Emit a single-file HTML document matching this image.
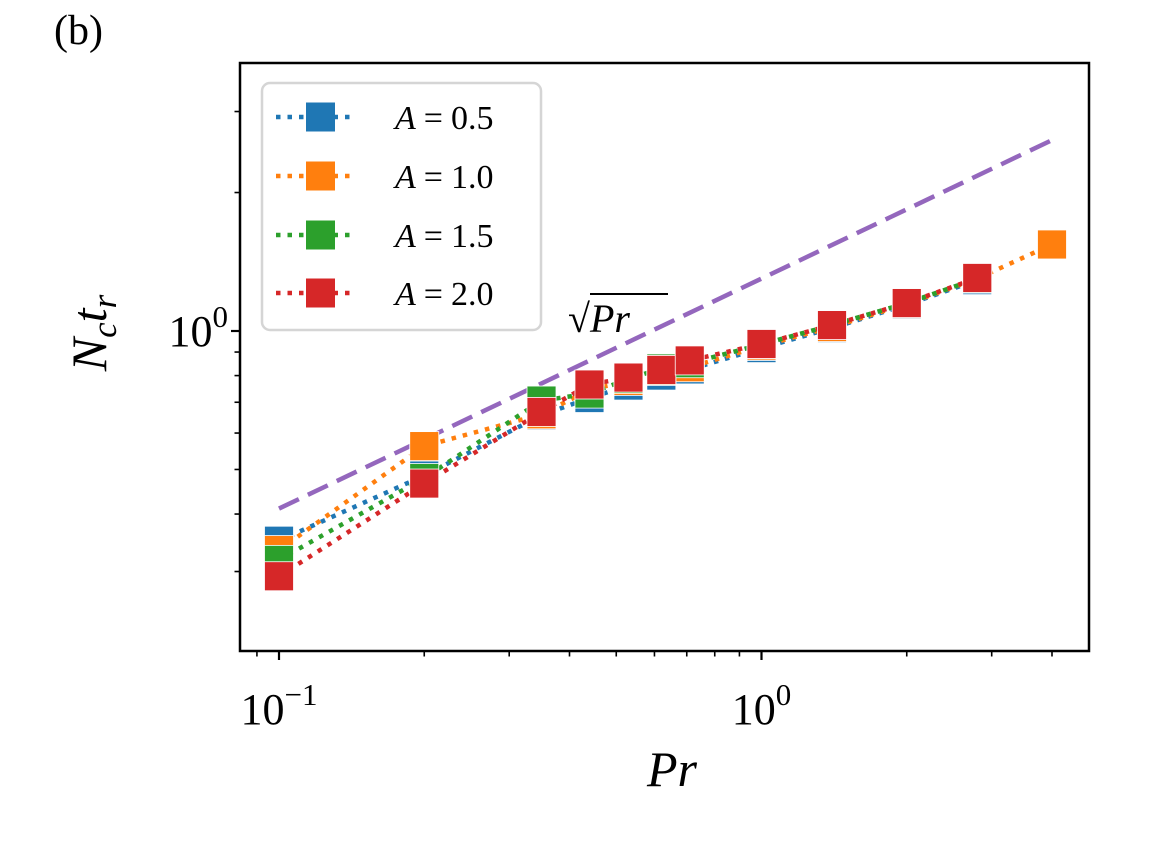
<!DOCTYPE html>
<html><head><meta charset="utf-8"><style>
html,body{margin:0;padding:0;background:#fff;}
svg{display:block;}
text,tspan{font-family:"Liberation Serif","DejaVu Serif",serif;}
</style></head><body>
<svg id="chart" width="1152" height="864" viewBox="0 0 1152 864">
<text x="54" y="44" font-size="42">(b)</text>
<g id="plot"></g>
<text x="672" y="786" font-size="50" font-style="italic" text-anchor="middle">Pr</text>
<text transform="translate(106,333) rotate(-90)" font-size="50" font-style="italic" text-anchor="middle">N<tspan font-size="35" dy="10">c</tspan><tspan dy="-10">t</tspan><tspan font-size="35" dy="10">r</tspan></text>
</svg>
<script>
const prValues = [0.1,0.2,0.35,0.44,0.53,0.62,0.71,1.0,1.4,2.0,2.8,4.0];
const seriesA05 = [0.350,0.485,0.656,0.715,0.761,0.800,0.825,0.918,1.015,1.14,1.29];
const seriesA10 = [0.334,0.562,0.659,0.745,0.779,0.819,0.834,0.928,1.02,1.145,1.30,1.542];
const seriesA15 = [0.318,0.479,0.706,0.731,0.787,0.829,0.851,0.935,1.03,1.15,1.30];
const seriesA20 = [0.293,0.466,0.667,0.765,0.792,0.823,0.863,0.937,1.03,1.15,1.304];
const seriesLabels = ["A = 0.5","A = 1.0","A = 1.5","A = 2.0"];
const sqrtCoef = 1.30;
const sqrtRange = [0.1,4.0];

const NS="http://www.w3.org/2000/svg";
const L=240,R=1089,T=63,B=651;
const xDec=482.5, y0=331, yDec=460;
function X(v){return 279+(Math.log10(v)+1)*xDec;}
function Y(v){return y0-Math.log10(v)*yDec;}
const g=document.getElementById('plot');
function el(tag,attrs,parent){const e=document.createElementNS(NS,tag);for(const k in attrs)e.setAttribute(k,attrs[k]);(parent||g).appendChild(e);return e;}

const sq=el('line',{x1:X(sqrtRange[0]),y1:Y(sqrtCoef*Math.sqrt(sqrtRange[0])),x2:X(sqrtRange[1]),y2:Y(sqrtCoef*Math.sqrt(sqrtRange[1])),stroke:'#9467bd','stroke-width':4.5,'stroke-dasharray':'22 10'});


const sqt=el('text',{x:568,y:332,'font-size':40,'font-style':'italic'});
sqt.textContent='√Pr';


el('line',{x1:590,y1:294,x2:668,y2:294,stroke:'#000','stroke-width':2});

const colors=['#1f77b4','#ff7f0e','#2ca02c','#d62728'];
const all=[seriesA05,seriesA10,seriesA15,seriesA20];
const ms=29;
all.forEach((s,i)=>{
  const pts=s.map((v,j)=>X(prValues[j])+','+Y(v)).join(' ');
  const pl=el('polyline',{points:pts,fill:'none',stroke:colors[i],'stroke-width':4.5,'stroke-dasharray':'4.5 7'});
  
  
  s.forEach((v,j)=>{
    const r=el('rect',{x:X(prValues[j])-ms/2,y:Y(v)-ms/2,width:ms,height:ms,fill:colors[i],stroke:'#fff','stroke-width':0.8});
    
    
  });
});

const fr=el('rect',{x:L,y:T,width:R-L,height:B-T,fill:'none',stroke:'#000','stroke-width':2.5});


for(let d=-2;d<=1;d++){for(let m=1;m<10;m++){const v=m*Math.pow(10,d);const px=X(v);if(px<L||px>R)continue;
  el('line',{x1:px,y1:B,x2:px,y2:B+(m==1?9:5.5),stroke:'#000','stroke-width':m==1?2.2:1.6});}}
for(let d=-1;d<=1;d++){for(let m=1;m<10;m++){const v=m*Math.pow(10,d);const py=Y(v);if(py<T||py>B)continue;
  el('line',{x1:L,y1:py,x2:L-(m==1?9:5.5),y2:py,stroke:'#000','stroke-width':m==1?2.2:1.6});}}
const xl1=el('text',{x:X(0.1),y:724,'font-size':44,'text-anchor':'middle'});
xl1.innerHTML='10<tspan font-size="31" dy="-19">−1</tspan>';


const xl2=el('text',{x:X(1),y:724,'font-size':44,'text-anchor':'middle'});
xl2.innerHTML='10<tspan font-size="31" dy="-19">0</tspan>';


const yl=el('text',{x:228,y:346,'font-size':44,'text-anchor':'end'});
yl.innerHTML='10<tspan font-size="31" dy="-19">0</tspan>';



const lg=el('g',{});


el('rect',{x:262,y:83,width:279,height:247,rx:8,fill:'#fff',stroke:'#d5d5d5','stroke-width':2.5},lg);
const rows=[117,176,235,293];
seriesLabels.forEach((lab,i)=>{
  const e=el('g',{},lg);
  
  
  el('line',{x1:276,y1:rows[i],x2:354,y2:rows[i],stroke:colors[i],'stroke-width':4.5,'stroke-dasharray':'4.5 7'},e);
  el('rect',{x:306,y:rows[i]-14.5,width:29,height:29,fill:colors[i]},e);
  const p=lab.split(' = ');
  const t=el('text',{x:395,y:rows[i]+12,'font-size':34},e);
  t.innerHTML='<tspan font-style="italic">'+p[0]+'</tspan><tspan dx="8">=</tspan><tspan dx="8">'+p[1]+'</tspan>';
});
</script>
</body></html>
